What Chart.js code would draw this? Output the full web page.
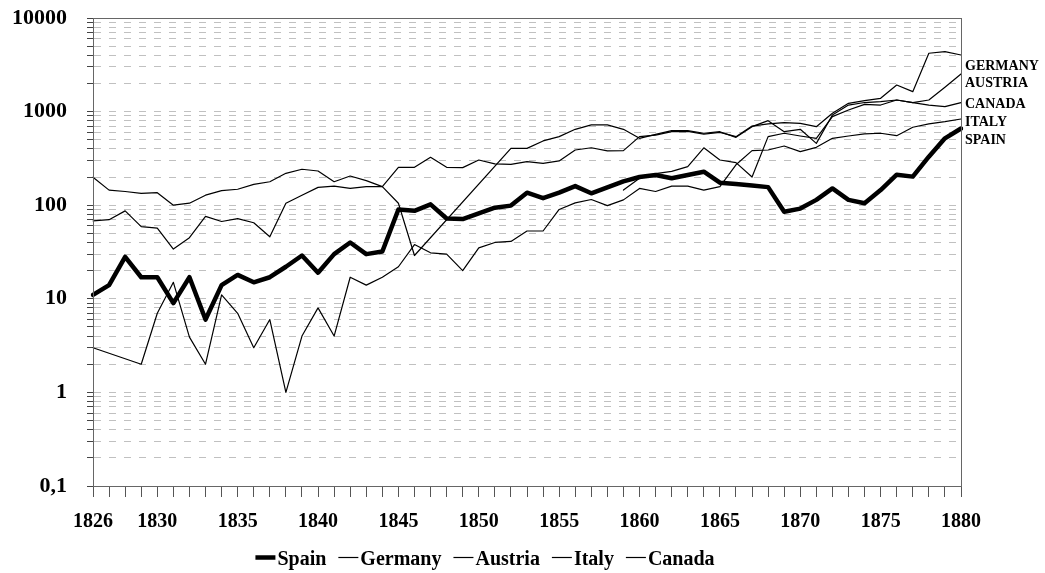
<!DOCTYPE html>
<html><head><meta charset="utf-8">
<script src="https://cdn.jsdelivr.net/npm/chart.js@4.4.1/dist/chart.umd.min.js"></script>
<style>html,body{margin:0;padding:0;background:#fff}#wrap{width:1045px;height:573px}</style>
</head><body><div id="wrap"><canvas id="c" width="1045" height="573"></canvas></div>
<script>
const years = ['1826','1827','1828','1829','1830','1831','1832','1833','1834','1835','1836','1837','1838','1839','1840','1841','1842','1843','1844','1845','1846','1847','1848','1849','1850','1851','1852','1853','1854','1855','1856','1857','1858','1859','1860','1861','1862','1863','1864','1865','1866','1867','1868','1869','1870','1871','1872','1873','1874','1875','1876','1877','1878','1879','1880'];
const xLabelYears = ['1826','1830','1835','1840','1845','1850','1855','1860','1865','1870','1875','1880'];

const spain = [11,14,28,17,17,9,17,6,14,18,15,17,22,29,19,30,40,30,32,90,87,102,72,71,82,94,99,136,119,136,160,134,155,180,200,210,194,210,228,174,168,162,156,85,92,114,151,114,105,145,212,202,330,518,660];
const germany = [68,70,87,59,57,34,45,76,67,72,65,46,105,128,155,160,151,158,158,254,254,325,254,252,304,276,273,292,280,297,389,411,380,383,540,560,610,615,575,600,540,700,740,763,750,690,960,1225,1309,1387,1923,1633,4200,4365,4027];
const austria = [199,145,140,134,136,100,105,128,143,148,167,178,219,242,232,178,205,183,158,105,29,null,null,null,null,null,405,405,486,540,647,720,720,647,518,570,625,625,587,610,531,690,800,610,647,458,920,1175,1250,1277,1330,1245,1330,1820,2523];
const italy = [3,null,null,2,7,15,3.9,2,11,7,3,6,1,4,8,4,17,14,17,22,38,31,30,20,35,40,41,53,53,90,106,115,99,114,151,140,160,160,145,158,270,383,389,429,373,415,518,549,577,587,553,680,738,780,834];
const canada = [null,null,null,null,null,null,null,null,null,null,null,null,null,null,null,null,null,null,null,null,null,null,null,null,null,null,null,null,null,null,null,null,null,145,194,217,230,258,410,304,285,200,540,587,549,518,883,1040,1195,1175,1330,1245,1175,1128,1245];

const yTickValues = [0.1,0.2,0.3,0.4,0.5,0.6,0.7,0.8,0.9,1,2,3,4,5,6,7,8,9,10,20,30,40,50,60,70,80,90,100,200,300,400,500,600,700,800,900,1000,2000,3000,4000,5000,6000,7000,8000,9000,10000];
const yTickLabels = {0.1:'0,1',1:'1',10:'10',100:'100',1000:'1000',10000:'10000'};

const endLabels = ['GERMANY','AUSTRIA','CANADA','ITALY','SPAIN'];
const endLabelY = [66,83,104,122,140];

const SERIF = "'Liberation Serif','Times New Roman',serif";

const framePlugin = {
  id:'frame',
  afterDraw(chart){
    const {ctx, chartArea:a} = chart;
    ctx.save();
    ctx.strokeStyle = '#666';
    ctx.lineWidth = 1;
    ctx.strokeRect(Math.round(a.left)+0.5, Math.round(a.top)+0.5, Math.round(a.right-a.left), Math.round(a.bottom-a.top));
    ctx.fillStyle = '#000';
    ctx.font = 'bold 14px ' + SERIF;
    ctx.textBaseline = 'middle';
    ctx.textAlign = 'left';
    endLabels.forEach((t,i)=>ctx.fillText(t, a.right+4, endLabelY[i]));
    ctx.font = 'bold 20px ' + SERIF;
    const ds = chart.data.datasets;
    const sample = 20, gapT = 2, gapI = 12;
    let total = 0;
    const widths = ds.map(d=>ctx.measureText(d.label).width);
    widths.forEach(w=> total += sample + gapT + w);
    total += gapI*(ds.length-1);
    let x = 485 - total/2;
    const yb = 565, ym = 557.5;
    ctx.textBaseline = 'alphabetic';
    ds.forEach((d,i)=>{
      ctx.strokeStyle = '#000';
      ctx.lineWidth = d.borderWidth;
      ctx.beginPath(); ctx.moveTo(x, ym); ctx.lineTo(x+sample, ym); ctx.stroke();
      x += sample + gapT;
      ctx.fillText(d.label, x, yb);
      x += widths[i] + gapI;
    });
    ctx.restore();
  }
};

new Chart(document.getElementById('c'), {
  type:'line',
  data:{
    labels: years,
    datasets:[
      {label:'Spain', data:spain, borderColor:'#000', borderWidth:4.5, spanGaps:true},
      {label:'Germany', data:germany, borderColor:'#000', borderWidth:1.2, spanGaps:true},
      {label:'Austria', data:austria, borderColor:'#000', borderWidth:1.2, spanGaps:true},
      {label:'Italy', data:italy, borderColor:'#000', borderWidth:1.2, spanGaps:true},
      {label:'Canada', data:canada, borderColor:'#000', borderWidth:1.2, spanGaps:true}
    ]
  },
  options:{
    responsive:false, animation:false, devicePixelRatio:1,
    layout:{padding:{left:0,right:84,top:18,bottom:27}},
    elements:{point:{radius:0,hoverRadius:0}, line:{tension:0, borderJoinStyle:'round', borderCapStyle:'round'}},
    plugins:{legend:{display:false}, tooltip:{enabled:false}},
    scales:{
      x:{
        type:'category', offset:false,
        grid:{display:true, drawOnChartArea:false, drawTicks:true, tickLength:11, tickColor:'#555', tickWidth:1, tickBorderDash:[]},
        border:{display:true, color:'#666', width:1},
        ticks:{autoSkip:false, maxRotation:0, minRotation:0, padding:13, color:'#000',
          font:{family:SERIF, weight:'bold', size:20},
          callback:function(v,i){ const y = years[i]; return xLabelYears.includes(y) ? y : ''; }},
        afterFit(s){ s.height = 60; }
      },
      y:{
        type:'logarithmic', min:0.1, max:10000,
        afterBuildTicks(s){ s.ticks = yTickValues.map(v=>({value:v})); },
        grid:{display:true, drawOnChartArea:true, drawTicks:true, color:'#c0c0c0', lineWidth:1, tickLength:6, tickColor:'#444', tickWidth:1, tickBorderDash:[]},
        border:{display:true, color:'#666', width:1, dash:[7,8]},
        ticks:{autoSkip:false, padding:20, color:'#000',
          font:{family:SERIF, weight:'bold', size:22},
          callback:(v)=> (yTickLabels[v] !== undefined ? yTickLabels[v] : '')},
        afterFit(s){ s.width = 93; s.paddingTop = 0; s.paddingBottom = 0; }
      }
    }
  },
  plugins:[framePlugin]
});
</script>
</body></html>
